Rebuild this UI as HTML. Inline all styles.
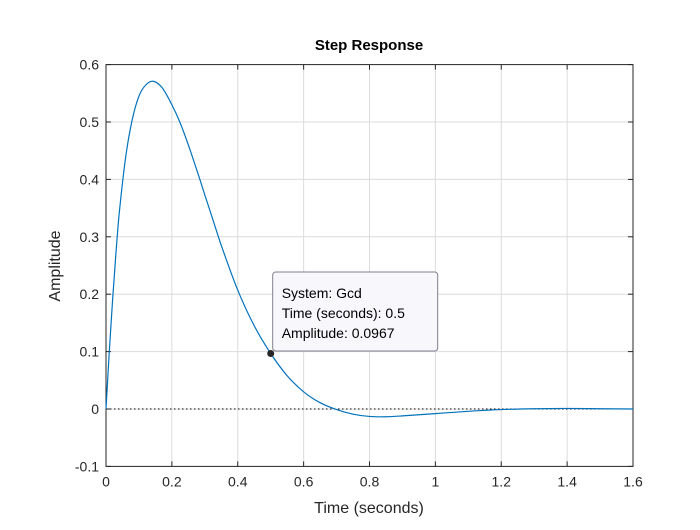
<!DOCTYPE html>
<html><head><meta charset="utf-8"><style>
body{margin:0;background:#fff;}
svg text{font-family:"Liberation Sans",sans-serif;}
</style></head><body>
<svg id="c" width="700" height="525"></svg>
<script>
const xTicks=[0,0.2,0.4,0.6,0.8,1,1.2,1.4,1.6];
const xTickLabels=["0","0.2","0.4","0.6","0.8","1","1.2","1.4","1.6"];
const yTicks=[-0.1,0,0.1,0.2,0.3,0.4,0.5,0.6];
const yTickLabels=["-0.1","0","0.1","0.2","0.3","0.4","0.5","0.6"];
const times=[0,0.01,0.02,0.03,0.04,0.06,0.08,0.1,0.12,0.143,0.17,0.2,0.224,0.25,0.285,0.3,0.325,0.35,0.4,0.45,0.5,0.55,0.6,0.65,0.7,0.75,0.8,0.85,0.9,1.0,1.1,1.2,1.3,1.4,1.5,1.6];
const amps=[0,0.1,0.19,0.27,0.34,0.44,0.505,0.545,0.564,0.571,0.56,0.530,0.50,0.46,0.40,0.373,0.329,0.285,0.207,0.145,0.0967,0.058,0.030,0.011,-0.001,-0.009,-0.013,-0.0135,-0.012,-0.008,-0.004,-0.001,0.0005,0.001,0.0005,0];
const markerT=[0.5], markerA=[0.0967];
const L=106,R=633,T=64.6,B=466.4;
const xs=t=>L+(t-0)/1.6*(R-L);
const ys=a=>B-(a+0.1)/0.7*(B-T);
const svg=document.getElementById('c');
const NS='http://www.w3.org/2000/svg';
function mk(tag,attrs,parent){const e=document.createElementNS(NS,tag);for(const k in attrs)e.setAttribute(k,attrs[k]);(parent||svg).appendChild(e);return e;}
let e;
e=mk('rect',{x:L,y:T,width:R-L,height:B-T,fill:'#fff',stroke:'none'});


xTicks.forEach((t,i)=>{
 if(i>0&&i<xTicks.length-1){e=mk('line',{x1:xs(t),x2:xs(t),y1:T,y2:B,stroke:'#dcdcdc','stroke-width':1});
 
 }
 mk('line',{x1:xs(t),x2:xs(t),y1:B,y2:B-5,stroke:'#262626'});
 mk('line',{x1:xs(t),x2:xs(t),y1:T,y2:T+5,stroke:'#262626'});
 e=mk('text',{x:xs(t),y:B+20,'text-anchor':'middle','font-size':14,fill:'#262626'});e.textContent=xTickLabels[i];
 
 
});
yTicks.forEach((a,i)=>{
 if(i>0&&i<yTicks.length-1){e=mk('line',{x1:L,x2:R,y1:ys(a),y2:ys(a),stroke:'#dcdcdc','stroke-width':1});
 
 }
 mk('line',{x1:L,x2:L+5,y1:ys(a),y2:ys(a),stroke:'#262626'});
 mk('line',{x1:R,x2:R-5,y1:ys(a),y2:ys(a),stroke:'#262626'});
 e=mk('text',{x:L-7,y:ys(a)+5,'text-anchor':'end','font-size':14,fill:'#262626'});e.textContent=yTickLabels[i];
 
 
});
e=mk('line',{x1:L,x2:R,y1:ys(0),y2:ys(0),stroke:'#000','stroke-dasharray':'1.5,2.5','stroke-width':1});


e=mk('rect',{x:L,y:T,width:R-L,height:B-T,fill:'none',stroke:'#262626','stroke-width':1});


const pts=times.map((t,i)=>[xs(t),ys(amps[i])]);
let d='M'+pts[0][0]+','+pts[0][1];
for(let i=0;i<pts.length-1;i++){
 const p0=pts[Math.max(0,i-1)],p1=pts[i],p2=pts[i+1],p3=pts[Math.min(pts.length-1,i+2)];
 const h=p2[0]-p1[0];
 const m1=(p2[1]-p0[1])/((p2[0]-p0[0])||1), m2=(p3[1]-p1[1])/((p3[0]-p1[0])||1);
 d+=' C'+(p1[0]+h/3)+','+(p1[1]+m1*h/3)+' '+(p2[0]-h/3)+','+(p2[1]-m2*h/3)+' '+p2[0]+','+p2[1];}
e=mk('path',{d:d,fill:'none',stroke:'#0072bd','stroke-width':1.2});


const mx=xs(markerT[0]),my=ys(markerA[0]);
const g=mk('g',{});


mk('rect',{x:mx+2,y:272,width:165,height:79,rx:3,fill:'#f8f8fc',stroke:'#7f7f8f','stroke-width':1},g);
['System: Gcd','Time (seconds): 0.5','Amplitude: 0.0967'].forEach((s,i)=>{const t=mk('text',{x:mx+11,y:298+i*20,'font-size':14,fill:'#000'},g);t.textContent=s;});
e=mk('circle',{cx:mx,cy:my,r:3.5,fill:'#262626'});


e=mk('text',{x:369,y:50,'text-anchor':'middle','font-size':15,'font-weight':'bold',fill:'#000'});e.textContent='Step Response';


e=mk('text',{x:369,y:513,'text-anchor':'middle','font-size':16,fill:'#262626'});e.textContent='Time (seconds)';


e=mk('text',{x:0,y:0,'text-anchor':'middle','font-size':16,fill:'#262626',transform:'translate(60,266) rotate(-90)'});e.textContent='Amplitude';


</script>
</body></html>
